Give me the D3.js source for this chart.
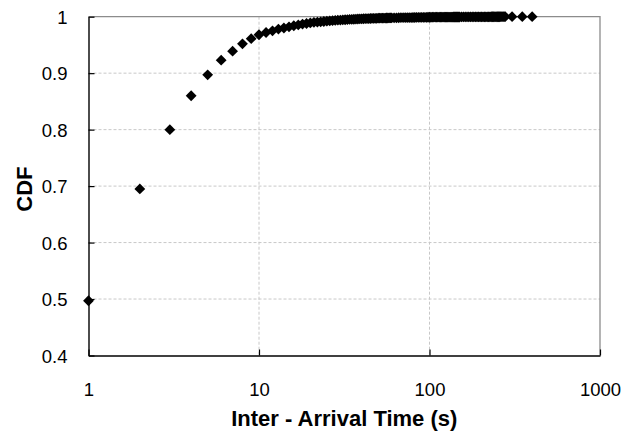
<!DOCTYPE html>
<html>
<head>
<meta charset="utf-8">
<script src="https://cdn.jsdelivr.net/npm/d3@7"></script>
<style>
  html, body { margin: 0; padding: 0; background: #fff; }
  svg { display: block; }
  text { font-family: "Liberation Sans", Arial, sans-serif; fill: #000; }
</style>
</head>
<body>
<svg id="chart" width="644" height="431"></svg>
<script>
// Data
const interArrival = [
  1,2,3,4,5,6,7,8,9,10,11,12,13,14,15,16,17,18,19,20,21,22,23,24,25,26,27,28,29,30,
  31,32,33,34,35,36,37,38,39,40,41,42,43,44,45,46,47,48,49,50,51,52,53,54,55,56,57,58,59,60,
  62,64,66,68,70,72,74,76,78,80,82,84,86,88,90,92,94,96,98,100,102,104,106,108,110,
  112,114,116,118,120,122,124,126,128,130,132,134,136,138,140,142,144,146,148,150,
  154,158,162,166,170,174,178,182,186,190,194,198,202,206,210,214,218,222,226,
  230,234,238,242,246,250,254,258,262,266,270,274,278,
  305,350,400];
const cdfValues = [
  0.497,0.695,0.800,0.860,0.897,0.923,0.939,0.952,0.961,0.968,0.972,0.975,0.978,0.980,0.982,0.984,0.9855,0.987,0.988,0.989,0.990,0.9905,0.991,0.9915,0.992,0.9925,0.993,0.9934,0.9938,0.9941,
  0.9944,0.9946,0.9949,0.9951,0.9953,0.9955,0.9957,0.9959,0.9961,0.9962,0.9964,0.9965,0.9966,0.9967,0.9968,0.9969,0.9970,0.9971,0.9972,0.9973,0.9974,0.9975,0.9975,0.9976,0.9976,0.9977,0.9977,0.9978,0.9978,0.9979,
  0.9980,0.9980,0.9981,0.9982,0.9983,0.9984,0.9984,0.9985,0.9985,0.9986,0.9986,0.9987,0.9987,0.9988,0.9988,0.9988,0.9989,0.9989,0.9990,0.9990,0.9990,0.9991,0.9991,0.9991,0.9991,
  0.9992,0.9992,0.9992,0.9992,0.9993,0.9993,0.9993,0.9993,0.9994,0.9994,0.9994,0.9994,0.9994,0.9995,0.9995,0.9995,0.9995,0.9995,0.9995,0.9995,
  0.9996,0.9996,0.9996,0.9996,0.9996,0.9996,0.9997,0.9997,0.9997,0.9997,0.9997,0.9997,0.9998,0.9998,0.9998,0.9998,0.9998,0.9998,0.9998,
  0.9999,0.9999,0.9999,0.9999,0.9999,0.9999,0.9999,0.9999,1.0,1.0,1.0,1.0,1.0,
  1.0,1.0,1.0];
const xTicks = [1, 10, 100, 1000];
const yTicks = [0.4, 0.5, 0.6, 0.7, 0.8, 0.9, 1];
const xTitle = "Inter - Arrival Time (s)";
const yTitle = "CDF";

const svg = d3.select("#chart");
const plot = { left: 88.5, right: 600, top: 16.7, bottom: 355.5 };

const x = d3.scaleLog().domain([1, 1000]).range([plot.left, plot.right]);
const y = d3.scaleLinear().domain([0.4, 1]).range([plot.bottom, plot.top]);

// gridlines
const grid = svg.append("g");
grid.selectAll("line.gy").data(yTicks.filter(d => d > 0.4 && d < 1)).enter().append("line")
  .attr("x1", plot.left).attr("x2", plot.right)
  .attr("y1", d => y(d)).attr("y2", d => y(d))
  .attr("stroke", "#c8c8c8").attr("stroke-width", 1).attr("stroke-dasharray", "3,2");
grid.selectAll("line.gx").data(xTicks.filter(d => d > 1 && d < 1000)).enter().append("line")
  .attr("y1", plot.top).attr("y2", plot.bottom)
  .attr("x1", d => x(d)).attr("x2", d => x(d))
  .attr("stroke", "#c8c8c8").attr("stroke-width", 1).attr("stroke-dasharray", "3,2");

// top & right border (gray)
svg.append("path")
  .attr("d", `M${plot.left},${plot.top}H${plot.right}V${plot.bottom}`)
  .attr("fill", "none").attr("stroke", "#8c8c8c").attr("stroke-width", 1.3);

// axes
const yAxis = d3.axisLeft(y).tickValues(yTicks).tickFormat(d => d === 1 ? "1" : d3.format(".1f")(d))
  .tickSizeInner(-6).tickSizeOuter(0).tickPadding(21);
const gy = svg.append("g").attr("transform", `translate(${plot.left},0)`).call(yAxis);
gy.select(".domain").attr("stroke", "#000").attr("stroke-width", 1.4);
gy.selectAll(".tick line").attr("stroke", "#000").attr("stroke-width", 1.2);
gy.selectAll(".tick text").attr("font-size", "18.5px").attr("font-family", "Liberation Sans, Arial, sans-serif")
  .attr("dy", "0.36em");

const xAxis = d3.axisBottom(x).tickValues(xTicks).tickFormat(d3.format("d"))
  .tickSizeInner(-6).tickSizeOuter(0).tickPadding(27);
const gx = svg.append("g").attr("transform", `translate(0,${plot.bottom})`).call(xAxis);
gx.select(".domain").attr("stroke", "#000").attr("stroke-width", 1.4);
gx.selectAll(".tick line").attr("stroke", "#000").attr("stroke-width", 1.2);
gx.selectAll(".tick text").attr("font-size", "18.5px").attr("font-family", "Liberation Sans, Arial, sans-serif")
  .attr("dy", "0.71em");

// points (diamonds)
const r = 5.4;
const diamond = `M0,${-r}L${r},0L0,${r}L${-r},0Z`;
svg.append("g").selectAll("path").data(interArrival.map((d, i) => [d, cdfValues[i]])).enter()
  .append("path")
  .attr("d", diamond)
  .attr("transform", d => `translate(${x(d[0])},${y(d[1])})`)
  .attr("fill", "#000");

// titles
svg.append("text").attr("x", (plot.left + plot.right) / 2).attr("y", 426)
  .attr("text-anchor", "middle").attr("font-size", "22px").attr("font-weight", "bold")
  .text(xTitle);
svg.append("text").attr("transform", `translate(32,${(plot.top + plot.bottom) / 2 + 3}) rotate(-90)`)
  .attr("text-anchor", "middle").attr("font-size", "22px").attr("font-weight", "bold")
  .text(yTitle);
</script>
</body>
</html>
